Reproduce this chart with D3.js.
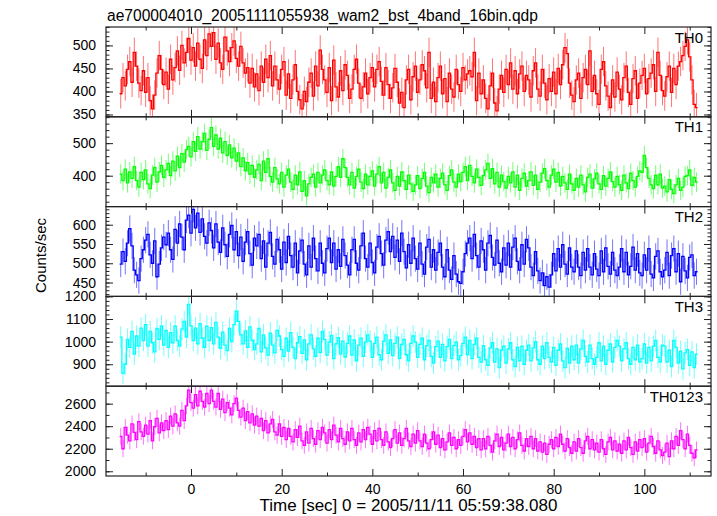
<!DOCTYPE html>
<html><head><meta charset="utf-8">
<script src="https://cdn.jsdelivr.net/npm/d3@7"></script>
<style>body{margin:0;background:#fff} svg{display:block}</style>
</head><body><svg id="c" width="717" height="516"></svg>
<script>
const title = "ae700004010_20051111055938_wam2_bst_4band_16bin.qdp";
const xLabel = "Time [sec] 0 = 2005/11/11 05:59:38.080";
const yLabel = "Counts/sec";
const bandNames = ["TH0","TH1","TH2","TH3","TH0123"];
const bandColors = ["#ff0000","#00ff00","#0000ff","#00ffff","#ff00ff"];
const tStart = -15.5, binSize = 0.5;
const xDomain = [-18.75, 114.7];
const xTicks = [0,20,40,60,80,100];
const xMinorTicks = [-10,10,30,50,70,90,110];

const th0 = [
395,430,412,448,465,420,485,455,418,402,
445,398,430,380,362,392,440,478,448,415,
442,405,470,425,452,488,446,500,462,485,
515,468,495,455,505,470,450,512,478,525,
498,528,470,505,462,448,518,488,465,495,
510,472,455,498,462,440,452,418,450,410,
438,402,455,420,470,430,478,412,455,425,
405,448,465,392,438,385,425,458,400,382,
362,400,378,420,440,390,455,412,490,448,
425,398,452,380,468,410,388,445,402,458,
435,385,405,448,470,418,385,410,440,395,
430,452,410,448,465,422,392,452,415,385,
408,450,420,375,398,365,425,448,382,432,
455,398,425,458,445,408,485,385,420,378,
430,455,395,428,378,440,405,388,448,415,
400,452,425,438,445,432,485,380,440,395,
425,385,362,412,440,375,358,405,435,398,
448,415,462,405,445,395,438,455,400,435,
425,388,445,462,405,390,448,418,382,428,
400,442,395,450,415,458,495,482,418,392,
378,425,440,385,430,448,415,488,400,435,
395,372,448,465,412,390,365,425,388,442,
405,382,430,455,398,372,428,445,385,418,
435,450,395,428,440,458,400,485,435,402,
390,432,455,398,450,415,455,465,478,498,
512,475,425,372,365];

const th1 = [
405,385,420,378,412,392,428,385,365,410,
388,418,375,360,402,425,380,412,432,395,
418,438,400,445,415,460,425,468,442,480,
490,458,505,475,520,482,505,530,478,512,
548,490,525,482,515,470,505,462,495,455,
485,445,470,428,455,415,440,405,432,395,
418,435,385,445,410,452,398,380,425,390,
375,410,365,402,420,380,358,402,372,412,
352,385,338,375,395,405,365,410,378,402,
418,385,372,412,368,398,428,395,452,425,
395,372,410,362,398,420,380,360,405,372,
398,415,368,405,428,378,410,362,395,418,
378,355,398,368,412,385,358,402,375,352,
372,400,360,392,410,368,348,395,378,405,
365,392,408,372,355,400,418,380,365,405,
382,410,428,385,432,398,378,420,395,370,
400,418,438,392,422,375,410,365,402,382,
362,398,378,412,365,402,355,392,408,368,
385,412,370,402,358,380,408,422,385,365,
402,420,380,410,368,398,378,358,405,375,
355,392,365,402,372,350,395,405,362,390,
408,375,358,400,368,392,412,382,365,398,
372,355,402,378,360,408,385,365,398,415,
410,462,425,392,372,360,402,372,405,362,
368,350,388,358,345,372,392,355,365,398,
400,418,370,395,380];

const th2 = [
498,530,505,552,590,545,482,470,455,512,
535,560,575,522,500,558,465,498,540,568,
548,578,535,510,588,552,602,568,535,612,
625,578,640,592,630,580,615,570,552,605,
585,540,602,555,528,592,548,518,575,598,
535,582,520,568,505,555,582,525,495,565,
545,575,512,558,490,552,580,518,498,562,
535,485,555,502,570,520,490,552,475,532,
560,498,470,545,490,565,512,480,552,500,
475,538,565,502,552,485,535,492,562,520,
495,470,535,562,500,482,545,578,512,490,
552,502,475,542,570,525,495,560,582,530,
570,515,560,505,578,530,488,548,500,565,
512,485,552,498,472,542,562,490,535,482,
528,552,490,465,535,482,458,520,472,452,
448,478,525,552,565,512,575,520,490,558,
535,482,552,572,515,495,560,500,478,540,
495,552,490,542,565,505,482,548,498,562,
540,490,468,530,480,455,475,442,465,438,
470,525,480,538,490,548,498,472,540,490,
478,532,490,468,528,482,538,490,470,525,
485,468,532,478,540,492,472,528,482,468,
490,538,478,528,470,492,542,482,525,475,
468,522,482,538,472,462,518,532,478,465,
482,528,468,520,538,478,525,452,518,480,
462,515,522,468,478];

const th3 = [
1020,860,900,1010,975,1045,945,1025,980,1060,
1005,1075,980,1045,995,955,1058,1010,1070,985,
1050,975,1040,995,1068,1005,980,1055,1090,1020,
1165,1070,1005,1060,990,1080,1015,975,1068,1005,
1062,990,1085,1020,970,1042,985,960,1058,1000,
1075,1135,1090,1030,990,1048,975,1065,1005,965,
990,1058,955,1030,972,940,1038,985,950,1050,
1025,965,935,1015,958,1040,975,925,995,1022,
948,1008,920,990,1030,968,935,1015,952,1045,
1010,940,998,1028,925,990,1018,945,1002,932,
992,1025,940,1008,915,985,1015,935,998,1030,
1002,930,992,1020,942,920,1002,1030,948,1008,
938,992,1020,925,988,1010,942,915,992,1025,
998,930,988,1015,920,982,1005,935,905,978,
1002,930,988,915,978,1010,925,982,998,920,
938,992,1020,942,1005,925,988,1015,930,910,
982,920,895,972,995,910,968,885,962,980,
905,968,995,920,890,975,915,980,900,962,
985,915,972,1000,920,900,980,925,995,930,
910,975,895,962,990,915,885,970,905,980,
920,985,905,968,1005,935,910,985,925,900,
930,995,915,980,900,962,990,910,975,1005,
980,915,968,995,925,900,975,920,985,910,
925,990,905,975,915,980,1005,930,910,985,
980,910,962,890,1005,975,905,958,880,950,
965,895,955,885,945];

const th0123 = [
2310,2200,2390,2320,2270,2420,2345,2280,2440,2350,
2310,2410,2330,2450,2270,2395,2470,2340,2430,2360,
2450,2370,2490,2400,2510,2430,2400,2540,2450,2580,
2720,2610,2560,2680,2580,2710,2620,2570,2690,2600,
2720,2620,2570,2690,2550,2640,2520,2610,2560,2500,
2600,2650,2540,2480,2560,2450,2530,2430,2510,2410,
2490,2400,2470,2360,2450,2340,2420,2460,2350,2320,
2420,2310,2390,2280,2380,2310,2260,2370,2300,2400,
2270,2230,2350,2250,2380,2290,2240,2360,2280,2390,
2340,2250,2370,2280,2410,2320,2260,2380,2290,2240,
2350,2270,2380,2280,2230,2340,2260,2370,2280,2390,
2330,2240,2360,2270,2380,2280,2230,2350,2260,2210,
2290,2370,2250,2340,2230,2290,2380,2270,2220,2330,
2250,2360,2270,2220,2330,2250,2200,2280,2350,2240,
2320,2210,2290,2190,2260,2340,2230,2300,2200,2280,
2230,2310,2370,2260,2340,2240,2310,2210,2290,2190,
2290,2200,2310,2230,2170,2270,2330,2220,2300,2190,
2250,2330,2220,2300,2200,2280,2340,2230,2180,2290,
2220,2310,2200,2290,2180,2260,2170,2250,2150,2240,
2280,2200,2300,2220,2330,2240,2180,2290,2210,2160,
2260,2180,2290,2210,2160,2270,2310,2200,2280,2190,
2250,2170,2280,2200,2150,2260,2300,2190,2270,2180,
2240,2160,2270,2190,2300,2210,2150,2260,2180,2280,
2210,2290,2170,2250,2310,2220,2160,2270,2190,2140,
2170,2250,2130,2270,2200,2310,2230,2360,2280,2200,
2330,2230,2160,2120,2190];

const bandErrors = [32, 30, 34, 48, 75];
const yDomains = [[345,540],[305,581],[414,647],[803,1200],[1958,2755]];
const yTicks = [[350,400,450,500],[400,500],[450,500,550,600],[900,1000,1100,1200],[2000,2200,2400,2600]];
const yMinorSteps = [10,20,10,20,100];

const series = [th0, th1, th2, th3, th0123];
const FONT = '"Liberation Sans", Arial, Helvetica, sans-serif';

const svg = d3.select("#c");
const L = 106, R = 711, T = 27, B = 476, nP = series.length, ph = (B - T) / nP;
const x = d3.scaleLinear().domain(xDomain).range([L, R]);

svg.append("text").attr("x", 107).attr("y", 20.5).attr("font-family", FONT)
  .attr("font-size", 15.6).attr("fill", "#000").text(title);

series.forEach((vals, k) => {
  const top = T + k * ph, bot = top + ph;
  const y = d3.scaleLinear().domain(yDomains[k]).range([bot, top]);
  const col = bandColors[k], err = bandErrors[k];
  const pts = vals.map((v, i) => ({t: tStart + i * binSize, v}));

  svg.append("clipPath").attr("id", "cp" + k).append("rect")
    .attr("x", L).attr("y", top).attr("width", R - L).attr("height", ph);
  const g = svg.append("g").attr("clip-path", `url(#cp${k})`);

  g.selectAll("line.eb").data(pts).join("line").attr("class", "eb")
    .attr("x1", d => x(d.t)).attr("x2", d => x(d.t))
    .attr("y1", d => y(d.v - err)).attr("y2", d => y(d.v + err))
    .attr("stroke", col).attr("stroke-width", 1).attr("stroke-opacity", 0.55);
  const stepPts = pts.flatMap(d => [[d.t - binSize / 2, d.v], [d.t + binSize / 2, d.v]]);
  g.append("path").datum(stepPts)
    .attr("d", d3.line().x(d => x(d[0])).y(d => y(d[1])))
    .attr("fill", "none").attr("stroke", col).attr("stroke-width", 1.3);

  const [d0, d1] = yDomains[k];
  const minor = d3.range(Math.ceil(d0 / yMinorSteps[k]) * yMinorSteps[k], d1 + 0.001, yMinorSteps[k]);
  const styleAxis = sel => { sel.select(".domain").remove(); sel.selectAll("line").attr("stroke", "#222"); };
  svg.append("g").attr("transform", `translate(${L},0)`)
    .call(d3.axisLeft(y).tickValues(minor).tickSize(-3.5).tickSizeOuter(0).tickFormat(""))
    .call(styleAxis);
  svg.append("g").attr("transform", `translate(${R},0)`)
    .call(d3.axisRight(y).tickValues(minor).tickSize(-3.5).tickSizeOuter(0).tickFormat(""))
    .call(styleAxis);
  const la = svg.append("g").attr("transform", `translate(${L},0)`)
    .call(d3.axisLeft(y).tickValues(yTicks[k]).tickSize(-7).tickSizeOuter(0).tickPadding(10).tickFormat(d3.format("d")))
    .call(styleAxis);
  la.attr("font-family", FONT).attr("font-size", 14);
  la.selectAll("text").attr("fill", "#000");
  svg.append("g").attr("transform", `translate(${R},0)`)
    .call(d3.axisRight(y).tickValues(yTicks[k]).tickSize(-7).tickSizeOuter(0).tickFormat(""))
    .call(styleAxis);

  svg.append("g").attr("transform", `translate(0,${top})`)
    .call(d3.axisTop(x).tickValues(xTicks).tickSize(-7).tickSizeOuter(0).tickFormat(""))
    .call(styleAxis);
  svg.append("g").attr("transform", `translate(0,${top})`)
    .call(d3.axisTop(x).tickValues(xMinorTicks).tickSize(-3.5).tickSizeOuter(0).tickFormat(""))
    .call(styleAxis);
  const ba = svg.append("g").attr("transform", `translate(0,${bot})`)
    .call(d3.axisBottom(x).tickValues(xTicks).tickSize(-7).tickSizeOuter(0).tickPadding(8)
      .tickFormat(k === nP - 1 ? d3.format("d") : ""))
    .call(styleAxis);
  ba.attr("font-family", FONT).attr("font-size", 14);
  ba.selectAll("text").attr("fill", "#000");
  svg.append("g").attr("transform", `translate(0,${bot})`)
    .call(d3.axisBottom(x).tickValues(xMinorTicks).tickSize(-3.5).tickSizeOuter(0).tickFormat(""))
    .call(styleAxis);

  svg.append("rect").attr("x", L).attr("y", top).attr("width", R - L).attr("height", ph)
    .attr("fill", "none").attr("stroke", "#222").attr("stroke-width", 1.2);

  svg.append("text").attr("x", 703).attr("y", top + 15.5).attr("text-anchor", "end")
    .attr("font-family", FONT).attr("font-size", 15).attr("fill", "#000").text(bandNames[k]);
});

svg.append("text").attr("transform", `translate(46,${(T + B) / 2 + 4}) rotate(-90)`)
  .attr("text-anchor", "middle").attr("font-family", FONT).attr("font-size", 15)
  .attr("fill", "#000").text(yLabel);
svg.append("text").attr("x", (L + R) / 2).attr("y", 511).attr("text-anchor", "middle")
  .attr("font-family", FONT).attr("font-size", 17).attr("fill", "#000").text(xLabel);
</script>
</body></html>
